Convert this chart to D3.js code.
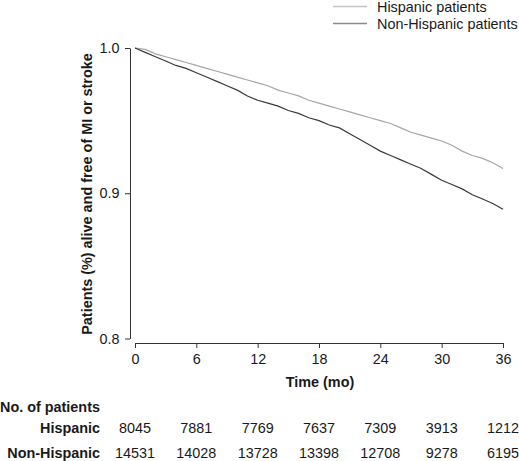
<!DOCTYPE html>
<html><head><meta charset="utf-8">
<script src="https://cdn.jsdelivr.net/npm/d3@7"></script>
<style>body{margin:0;background:#fff}svg{display:block;font-family:"Liberation Sans",Arial,sans-serif}</style>
</head><body><svg id="c" width="519" height="461"></svg>
<script>
const months = d3.range(0, 37);
const hispanic = [1.000,0.999,0.996,0.994,0.992,0.990,0.988,0.986,0.984,0.982,0.980,0.978,0.976,0.974,0.971,0.969,0.967,0.964,0.962,0.960,0.958,0.956,0.954,0.952,0.950,0.948,0.945,0.942,0.940,0.938,0.936,0.933,0.929,0.926,0.924,0.921,0.917];
const nonHispanic = [1.000,0.997,0.994,0.991,0.988,0.986,0.983,0.980,0.977,0.974,0.971,0.967,0.964,0.962,0.960,0.957,0.955,0.952,0.950,0.947,0.945,0.941,0.937,0.933,0.929,0.926,0.923,0.920,0.917,0.913,0.909,0.906,0.903,0.899,0.896,0.893,0.889];
const xTicks = [0,6,12,18,24,30,36];
const yTicks = [0.8,0.9,1.0];
const atRiskHispanic = [8045,7881,7769,7637,7309,3913,1212];
const atRiskNonHispanic = [14531,14028,13728,13398,12708,9278,6195];
const seriesNames = ["Hispanic patients","Non-Hispanic patients"];
const colors = ["#a6a6a6","#3a3a3a"];
const legendColors = ["#c4c4c4","#8c8c8c"];

const FS = 14.4;
const svg = d3.select("#c");
const x = d3.scaleLinear().domain([0,36]).range([135,503]);
const y = d3.scaleLinear().domain([0.8,1.0]).range([338.5,48]);
const axisColor = "#333";
const txt = "#1a1a1a";

// Y axis
const ya = svg.append("g").attr("transform","translate(130,0)")
  .call(d3.axisLeft(y).tickValues(yTicks).tickFormat(d3.format(".1f")).tickSize(5).tickSizeOuter(0));
ya.select(".domain").attr("stroke",axisColor);
ya.selectAll("line").attr("stroke",axisColor);
ya.selectAll("text").attr("font-size",FS).attr("fill",txt).attr("x",-10.5).attr("font-family","Liberation Sans, Arial, sans-serif");

// X axis
const xa = svg.append("g").attr("transform","translate(0,343)")
  .call(d3.axisBottom(x).tickValues(xTicks).tickSize(5).tickSizeOuter(0));
xa.select(".domain").attr("stroke",axisColor);
xa.selectAll("line").attr("stroke",axisColor);
xa.selectAll("text").attr("font-size",FS).attr("fill",txt).attr("y",11).attr("font-family","Liberation Sans, Arial, sans-serif");

// axis titles
svg.append("text").attr("x",320).attr("y",387).attr("text-anchor","middle")
  .attr("font-weight","bold").attr("font-size",FS).attr("fill",txt).text("Time (mo)");
svg.append("text").attr("transform","translate(92,194) rotate(-90)").attr("text-anchor","middle")
  .attr("font-weight","bold").attr("font-size",FS).attr("fill",txt).text("Patients (%) alive and free of MI or stroke");

// curves
const line = d3.line().x((d,i)=>x(months[i])).y(d=>y(d)).curve(d3.curveLinear);
[hispanic, nonHispanic].forEach((s,k)=>{
  svg.append("path").datum(s).attr("d",line).attr("fill","none")
    .attr("stroke",colors[k]).attr("stroke-width",1.2);
});

// legend
seriesNames.forEach((n,k)=>{
  const ly = 6.5 + k*17;
  svg.append("line").attr("x1",333).attr("x2",367).attr("y1",ly).attr("y2",ly)
    .attr("stroke",legendColors[k]).attr("stroke-width",1.5);
  svg.append("text").attr("x",377).attr("y",ly+5.5).attr("font-size",FS).attr("fill",txt).text(n);
});

// at-risk table
svg.append("text").attr("x",0).attr("y",412).attr("font-weight","bold").attr("font-size",FS).attr("fill",txt).text("No. of patients");
[["Hispanic",atRiskHispanic,432.5],["Non-Hispanic",atRiskNonHispanic,457.5]].forEach(([lab,vals,by])=>{
  svg.append("text").attr("x",100).attr("y",by).attr("text-anchor","end").attr("font-weight","bold")
    .attr("font-size",FS).attr("fill",txt).text(lab);
  svg.selectAll(null).data(vals).enter().append("text")
    .attr("x",(d,i)=>x(xTicks[i])).attr("y",by).attr("text-anchor","middle")
    .attr("font-size",FS).attr("fill",txt).text(d=>d);
});
</script></body></html>
